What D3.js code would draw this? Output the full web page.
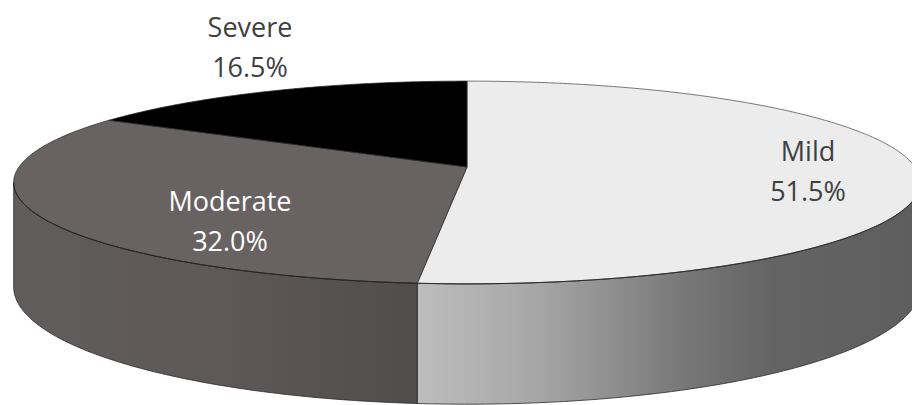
<!DOCTYPE html>
<html><head><meta charset="utf-8">
<script src="https://cdn.jsdelivr.net/npm/d3@7/dist/d3.min.js"></script>
<style>html,body{margin:0;padding:0;background:#fff;}svg{display:block;}</style>
</head><body><svg id="c" width="912" height="405"></svg>
<script>
// ---- data ----
const categories = ["Mild", "Moderate", "Severe"];
const values = [51.5, 32.0, 16.5];
const valueLabels = ["51.5%", "32.0%", "16.5%"];

// ---- style / layout ----
const topColors = ["#ececec", "#696262", "#000000"];
const labelColors = ["#404040", "#ffffff", "#404040"];
const labelAnchors = [[808, 161], [230, 211], [250, 37]]; // baseline of first line
const W = 912, H = 405;
const cx = 467, cy = 167;   // pie centre on screen
const A = 448;              // horizontal radius
const B = 99;               // vertical radius (before perspective)
const P = 0.1526;           // perspective factor
const T = 102;              // thickness

const svg = d3.select("#c");
const defs = svg.append("defs");

const pie = d3.pie().sort(null).value(d => d).startAngle(0).endAngle(2 * Math.PI);
const arcs = pie(values);

function proj(theta, f, bottom) {
  const s = Math.sin(theta), c = Math.cos(theta);
  const den = 1 + P * f * c;
  return [cx + A * f * s / den, cy - B * f * c / den + (bottom ? T / den : 0)];
}
function rim(a0, a1, bottom) {
  const n = Math.max(2, Math.ceil(Math.abs(a1 - a0) / 0.01));
  return d3.range(n + 1).map(i => proj(a0 + (a1 - a0) * i / n, 1, bottom));
}

const visR = Math.acos(-P), visL = 2 * Math.PI - Math.acos(-P);
const line = d3.line();

// gradients for sides
const gMild = defs.append("linearGradient").attr("id", "g0").attr("gradientUnits", "userSpaceOnUse")
  .attr("x1", 415).attr("x2", 912).attr("y1", 0).attr("y2", 0);
[[0, "#bebebe"], [0.25, "#a6a6a6"], [0.55, "#767676"], [0.72, "#646464"], [1, "#5e5e5e"]]
  .forEach(s => gMild.append("stop").attr("offset", s[0]).attr("stop-color", s[1]));
const gMod = defs.append("linearGradient").attr("id", "g1").attr("gradientUnits", "userSpaceOnUse")
  .attr("x1", 10).attr("x2", 415).attr("y1", 0).attr("y2", 0);
[[0, "#625d5d"], [0.5, "#5e5858"], [1, "#524d4d"]]
  .forEach(s => gMod.append("stop").attr("offset", s[0]).attr("stop-color", s[1]));

// sides
const gSides = svg.append("g");
arcs.forEach((a, i) => {
  const s0 = Math.max(a.startAngle, visR), s1 = Math.min(a.endAngle, visL);
  if (s1 <= s0) return;
  const topPts = rim(s0, s1, false);
  const botPts = rim(s0, s1, true).reverse();
  gSides.append("path")
    .attr("d", line(topPts.concat(botPts)) + "Z")
    .attr("fill", i === 2 ? "#000" : `url(#g${i})`)
    .attr("stroke", "#2b2b2b").attr("stroke-width", 0.8).attr("stroke-linejoin", "round");
});

// tops
const gTops = svg.append("g");
arcs.forEach((a, i) => {
  const pts = [[cx, cy]].concat(rim(a.startAngle, a.endAngle, false));
  gTops.append("path")
    .attr("d", line(pts) + "Z")
    .attr("fill", topColors[i])
    .attr("stroke", i === 0 ? "#555" : "#2b2b2b").attr("stroke-width", 0.8).attr("stroke-linejoin", "round");
});
// front rim line (top edge of side)
svg.append("path").attr("d", line(rim(visR, visL, false))).attr("fill", "none")
  .attr("stroke", "#222").attr("stroke-width", 0.9);

// labels
const gL = svg.append("g").attr("font-family", "'Open Sans', sans-serif").attr("font-size", 27)
  .attr("text-anchor", "middle");
arcs.forEach((a, i) => {
  const t = gL.append("text").attr("fill", labelColors[i])
    .attr("x", labelAnchors[i][0]).attr("y", labelAnchors[i][1]);
  t.append("tspan").attr("x", labelAnchors[i][0]).text(categories[i]);
  t.append("tspan").attr("x", labelAnchors[i][0]).attr("dy", 40).text(valueLabels[i]);
});
</script></body></html>
